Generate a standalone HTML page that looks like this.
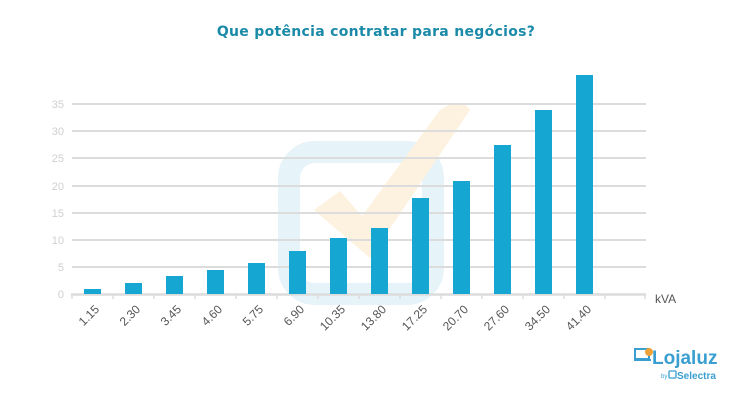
<!DOCTYPE html>
<html><head><meta charset="utf-8"><style>body{margin:0;background:#fff}svg{display:block}</style></head><body>
<svg width="751" height="401" viewBox="0 0 751 401" xmlns="http://www.w3.org/2000/svg" font-family="Liberation Sans, DejaVu Sans, sans-serif">
<text x="376" y="36" text-anchor="middle" font-size="14" font-weight="bold" fill="#1a8aa8" font-family="DejaVu Sans, sans-serif" letter-spacing="0.3">Que potência contratar para negócios?</text>
<!-- watermark -->
<rect x="289" y="152" width="144" height="142" rx="26" fill="none" stroke="#e6f3f9" stroke-width="22"/>
<path d="M314 210 L340 191 L362 216 L440 110 Q462 96 470 110 L370 258 Z" fill="#fdf1df"/>
<g stroke="#dcdcdc" stroke-width="2">
<line x1="72" y1="267" x2="646" y2="267"/><line x1="72" y1="240" x2="646" y2="240"/>
<line x1="72" y1="213" x2="646" y2="213"/><line x1="72" y1="186" x2="646" y2="186"/>
<line x1="72" y1="158" x2="646" y2="158"/><line x1="72" y1="131" x2="646" y2="131"/>
<line x1="72" y1="104" x2="646" y2="104"/>
<line x1="71" y1="294.5" x2="646" y2="294.5" stroke-width="2.5"/>
</g>
<g fill="#cfcfcf" font-size="11" text-anchor="end">
<text x="64" y="298">0</text><text x="64" y="271">5</text><text x="64" y="244">10</text><text x="64" y="217">15</text><text x="64" y="190">20</text><text x="64" y="162">25</text><text x="64" y="135">30</text><text x="64" y="108">35</text>
</g>
<g stroke="#dcdcdc" stroke-width="1.5">
<line x1="72" y1="294" x2="72" y2="299"/><line x1="113" y1="294" x2="113" y2="299"/><line x1="154" y1="294" x2="154" y2="299"/><line x1="195" y1="294" x2="195" y2="299"/><line x1="236" y1="294" x2="236" y2="299"/><line x1="277" y1="294" x2="277" y2="299"/><line x1="318" y1="294" x2="318" y2="299"/><line x1="359" y1="294" x2="359" y2="299"/><line x1="400" y1="294" x2="400" y2="299"/><line x1="441" y1="294" x2="441" y2="299"/><line x1="482" y1="294" x2="482" y2="299"/><line x1="523" y1="294" x2="523" y2="299"/><line x1="564" y1="294" x2="564" y2="299"/><line x1="605" y1="294" x2="605" y2="299"/><line x1="645" y1="294" x2="645" y2="299"/>
</g>
<g fill="#15a6d2">
<rect x="84" y="289" width="17" height="5"/><rect x="125" y="283" width="17" height="11"/><rect x="166" y="276" width="17" height="18"/><rect x="207" y="270" width="17" height="24"/><rect x="248" y="263" width="17" height="31"/><rect x="289" y="251" width="17" height="43"/><rect x="330" y="238" width="17" height="56"/><rect x="371" y="228" width="17" height="66"/><rect x="412" y="198" width="17" height="96"/><rect x="453" y="181" width="17" height="113"/><rect x="494" y="145" width="17" height="149"/><rect x="535" y="110" width="17" height="184"/><rect x="576" y="75" width="17" height="219"/>
</g>
<g fill="#555" font-size="12" text-anchor="end">
<text transform="translate(100,310) rotate(-45)">1.15</text>
<text transform="translate(141,310) rotate(-45)">2.30</text>
<text transform="translate(182,310) rotate(-45)">3.45</text>
<text transform="translate(223,310) rotate(-45)">4.60</text>
<text transform="translate(264,310) rotate(-45)">5.75</text>
<text transform="translate(305,310) rotate(-45)">6.90</text>
<text transform="translate(346,310) rotate(-45)">10.35</text>
<text transform="translate(387,310) rotate(-45)">13.80</text>
<text transform="translate(428,310) rotate(-45)">17.25</text>
<text transform="translate(469,310) rotate(-45)">20.70</text>
<text transform="translate(510,310) rotate(-45)">27.60</text>
<text transform="translate(551,310) rotate(-45)">34.50</text>
<text transform="translate(592,310) rotate(-45)">41.40</text>
</g>
<text x="655" y="303" font-size="12" fill="#555">kVA</text>
<!-- logo -->
<rect x="635" y="349" width="14" height="10" fill="none" stroke="#3a9fd0" stroke-width="2"/>
<rect x="634" y="359" width="17" height="2" fill="#3a9fd0"/>
<circle cx="649" cy="352" r="4" fill="#f0a23a"/>
<text x="652" y="364" font-size="19" font-weight="bold" fill="#3a9fd0">Lojaluz</text>
<text x="661" y="378" font-size="6" fill="#3a9fd0">by</text>
<rect x="669" y="371" width="7" height="7" rx="1" fill="none" stroke="#3a9fd0" stroke-width="1.3"/>
<text x="677" y="379" font-size="10" font-weight="bold" fill="#3a9fd0">Selectra</text>
</svg>
</body></html>
